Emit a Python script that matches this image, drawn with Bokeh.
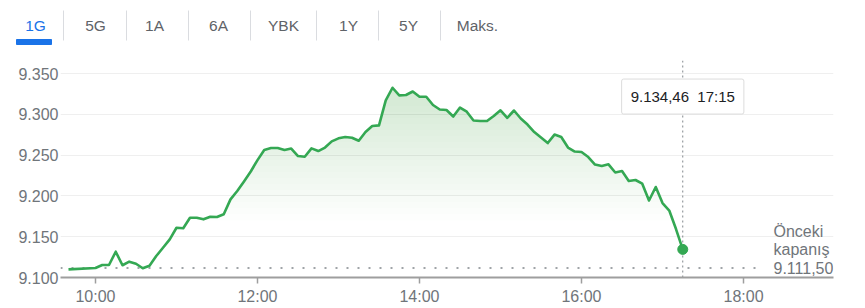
import numpy as np
import pandas as pd
from bokeh.plotting import figure
from bokeh.models import (Range1d, FixedTicker, CustomJSTickFormatter, Span,
                          Label, BoxAnnotation)
from bokeh.core.properties import value
from bokeh.embed import file_html
from bokeh.resources import INLINE

# ---------------- data ----------------
tab_labels = ["1G", "5G", "1A", "6A", "YBK", "1Y", "5Y", "Maks."]
active_tab = "1G"

times = ["09:40"] + list(pd.date_range("2024-01-01 10:00", "2024-01-01 17:15",
                                       freq="5min").strftime("%H:%M"))
prices = [
    9110.0,
    9111.6, 9115.3, 9115.3, 9131.6, 9115.0, 9119.4, 9116.9, 9111.3, 9114.5, 9126.3, 9136.5, 9146.8,
    9161.0, 9160.3, 9173.3, 9173.3, 9171.3, 9174.5, 9174.1, 9177.5, 9195.8, 9206.0, 9217.8, 9229.9,
    9243.9, 9256.4, 9258.7, 9258.7, 9256.3, 9258.1, 9248.9, 9248.0, 9258.3, 9255.0, 9259.3, 9266.9,
    9270.6, 9272.2, 9271.3, 9267.6, 9278.3, 9285.7, 9286.5, 9317.2, 9332.6, 9323.3, 9323.7, 9328.0,
    9321.6, 9321.6, 9311.4, 9305.9, 9305.3, 9297.3, 9308.3, 9303.2, 9292.4, 9291.8, 9291.8, 9297.9,
    9304.9, 9295.8, 9304.7, 9294.9, 9287.5, 9278.3, 9271.6, 9264.8, 9275.2, 9272.2, 9259.3, 9254.4,
    9253.8, 9247.7, 9238.5, 9236.6, 9238.7, 9228.7, 9230.5, 9218.3, 9219.5, 9215.0, 9194.4, 9210.9,
    9191.3, 9182.1, 9159.4, 9134.46,
]
prev_close = 9111.50
x_ticks = [10, 12, 14, 16, 18]
y_ticks = [9100, 9150, 9200, 9250, 9300, 9350]

hours = [int(s[:2]) + int(s[3:]) / 60 for s in times]


def tr_num(v):
    return f"{v:,.2f}".replace(",", "X").replace(".", ",").replace("X", ".")


FONT = "Liberation Sans"
GREEN = "#34a853"
GRAY_TXT = "#70757a"

# ---------------- tab row ----------------
tab_x = [35, 95, 154, 218, 283, 348, 408, 477]
sep_x = [63, 126, 188, 250, 316, 378, 440]
t = figure(width=865, height=55, x_range=Range1d(0, 865), y_range=Range1d(55, 0),
           toolbar_location=None, output_backend="svg", min_border=0,
           x_axis_location=None, y_axis_location=None, outline_line_color=None)
t.xgrid.visible = False
t.ygrid.visible = False
t.text(x=tab_x, y=[24.5] * len(tab_labels), text=tab_labels,
       text_color=["#1a73e8" if s == active_tab else "#5f6368" for s in tab_labels],
       text_align="center", text_baseline="middle",
       text_font=value(FONT), text_font_size="15.5px")
t.segment(x0=sep_x, x1=sep_x, y0=[10] * len(sep_x), y1=[40] * len(sep_x),
          line_color="#dadce0", line_width=1)
t.quad(left=[16], right=[51], top=[39], bottom=[44], color="#1a73e8")

# ---------------- main chart ----------------
p = figure(width=865, height=253, x_range=Range1d(9.568, 19.111),
           y_range=Range1d(9100, 9366), toolbar_location=None,
           output_backend="svg", min_border_left=60, min_border_right=32,
           min_border_top=5, min_border_bottom=31, outline_line_color=None)

# gradient-like fill under the line
levels = np.linspace(9170, 9340, 24)
pr = np.array(prices)
for L in levels:
    p.varea(x=hours, y1=[L] * len(hours), y2=np.maximum(pr, L),
            fill_color=GREEN, fill_alpha=0.0105)

prev_span = Span(location=prev_close, dimension="width", line_color="#80868b",
                 line_dash="2 9", line_width=1.5, level="underlay")
p.add_layout(prev_span)
cut = BoxAnnotation(left=18.25, bottom=prev_close - 4, top=prev_close + 4,
                    fill_color="white", fill_alpha=1, line_color=None)
p.add_layout(cut)
vspan = Span(location=hours[-1], dimension="height", line_color="#80868b",
             line_dash="2 3", line_width=1, level="underlay")
p.add_layout(vspan)

p.line(hours, prices, line_color=GREEN, line_width=2.6, line_join="round")
p.scatter([hours[-1]], [prices[-1]], size=10, color=GREEN)

# axes
p.xaxis.ticker = FixedTicker(ticks=x_ticks)
p.xaxis.formatter = CustomJSTickFormatter(code="return Math.round(tick) + ':00';")
p.xaxis.axis_line_color = "#9e9e9e"
p.xaxis.axis_line_width = 2
p.xaxis.major_tick_line_color = "#9e9e9e"
p.xaxis.major_tick_line_width = 1.5
p.xaxis.major_tick_in = 0
p.xaxis.major_tick_out = 6
p.xaxis.minor_tick_line_color = None
p.xaxis.major_label_standoff = 4
p.xaxis.major_label_text_font = FONT
p.xaxis.major_label_text_font_size = "16px"
p.xaxis.major_label_text_color = GRAY_TXT

p.yaxis.ticker = FixedTicker(ticks=y_ticks)
p.yaxis.formatter = CustomJSTickFormatter(code="return (tick/1000).toFixed(3);")
p.yaxis.axis_line_color = None
p.yaxis.major_tick_line_color = None
p.yaxis.minor_tick_line_color = None
p.yaxis.major_tick_out = 0
p.yaxis.major_tick_in = 0
p.yaxis.major_label_standoff = 2
p.yaxis.major_label_text_font = FONT
p.yaxis.major_label_text_font_size = "16px"
p.yaxis.major_label_text_color = GRAY_TXT

p.xgrid.visible = False
p.ygrid.grid_line_color = "#efefef"
p.ygrid.grid_line_width = 1

# tooltip (soft shadow + box)
tip_text = f"{tr_num(prices[-1])}\u00a0\u00a0{times[-1]}"
shadow = Label(x=hours[-1], y=9321.8, y_offset=-2, text=tip_text,
               text_align="center", text_baseline="middle", text_font=FONT,
               text_font_size="15px", text_alpha=0,
               background_fill_color="#000000", background_fill_alpha=0.07,
               padding=10, border_radius=3)
p.add_layout(shadow)
tip = Label(x=hours[-1], y=9321.8, text=tip_text,
            text_align="center", text_baseline="middle", text_font=FONT,
            text_font_size="15px", text_color="#202124",
            background_fill_color="white", border_line_color="#dcdcdc",
            padding=9, border_radius=2)
p.add_layout(tip)

# previous close labels
for txt, off in [("Önceki", 37), ("kapanış", 18.5), (tr_num(prev_close), 0)]:
    p.add_layout(Label(x=18.37, y=prev_close, y_offset=off, text=txt,
                       text_align="left", text_baseline="middle", text_font=FONT,
                       text_font_size="16px", text_color=GRAY_TXT))

open("out.html", "w").write(file_html([t, p], INLINE))
